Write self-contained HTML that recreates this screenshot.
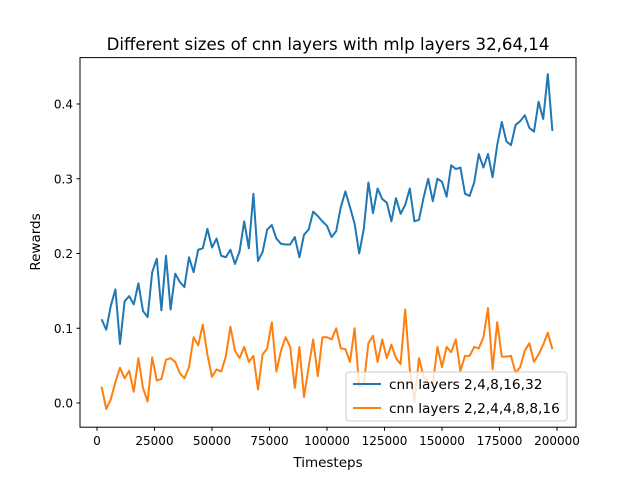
<!DOCTYPE html>
<html><head><meta charset="utf-8"><style>
body{margin:0;background:#fff;font-family:"DejaVu Sans","Liberation Sans",sans-serif}
svg text{font-family:"DejaVu Sans","Liberation Sans",sans-serif;fill:#000}
</style></head><body>
<svg id="c" width="640" height="480" xmlns="http://www.w3.org/2000/svg">
<rect width="640" height="480" fill="#fff"/>
<text x="328" y="50" font-size="16.6" text-anchor="middle">Different sizes of cnn layers with mlp layers 32,64,14</text>
<g id="plot"></g>
<rect x="80" y="57.6" width="496" height="369.6" fill="none" stroke="#000" stroke-width="1"/>
<text x="328" y="467" font-size="13.5" text-anchor="middle">Timesteps</text>
<text x="0" y="0" font-size="13.5" text-anchor="middle" transform="translate(40,242) rotate(-90)">Rewards</text>
<g>
<rect x="346" y="372" width="221" height="49" rx="3" fill="#fff" fill-opacity="0.8" stroke="#ccc"/>
<line x1="353" y1="384" x2="381" y2="384" stroke="#1f77b4" stroke-width="2"/>
<text x="389" y="389" font-size="13.7">cnn layers 2,4,8,16,32</text>
<line x1="353" y1="408" x2="381" y2="408" stroke="#ff7f0e" stroke-width="2"/>
<text x="389" y="413" font-size="13.7">cnn layers 2,2,4,4,8,8,16</text>
</g>
</svg>
<script>
const xTicks=[0,25000,50000,75000,100000,125000,150000,175000,200000];
const yTicks=[0.0,0.1,0.2,0.3,0.4];
const yTickLabels=["0.0","0.1","0.2","0.3","0.4"];
const blueValues=[0.112,0.098,0.13,0.152,0.079,0.136,0.143,0.132,0.16,0.123,0.115,0.175,0.193,0.124,0.197,0.125,0.173,0.162,0.155,0.195,0.175,0.205,0.207,0.233,0.208,0.22,0.197,0.195,0.205,0.186,0.203,0.243,0.207,0.28,0.19,0.202,0.232,0.238,0.22,0.213,0.212,0.212,0.222,0.195,0.225,0.232,0.256,0.25,0.243,0.237,0.222,0.23,0.262,0.283,0.262,0.24,0.2,0.233,0.295,0.254,0.287,0.273,0.268,0.243,0.274,0.253,0.265,0.287,0.243,0.245,0.275,0.3,0.27,0.3,0.296,0.276,0.318,0.313,0.315,0.28,0.277,0.295,0.333,0.315,0.333,0.302,0.345,0.376,0.35,0.345,0.372,0.377,0.385,0.368,0.363,0.403,0.38,0.44,0.364];
const orangeValues=[0.022,-0.008,0.005,0.028,0.047,0.033,0.043,0.015,0.06,0.02,0.002,0.061,0.03,0.032,0.058,0.06,0.055,0.04,0.033,0.048,0.088,0.077,0.105,0.065,0.035,0.045,0.042,0.062,0.102,0.07,0.06,0.075,0.055,0.063,0.018,0.065,0.073,0.108,0.042,0.07,0.088,0.075,0.02,0.075,0.008,0.048,0.085,0.036,0.088,0.088,0.085,0.1,0.073,0.072,0.055,0.1,0.022,0.025,0.08,0.09,0.055,0.085,0.06,0.078,0.06,0.052,0.125,0.045,0.002,0.06,0.035,0.028,0.025,0.075,0.048,0.075,0.068,0.085,0.043,0.063,0.063,0.075,0.073,0.088,0.127,0.045,0.108,0.062,0.062,0.063,0.04,0.048,0.07,0.08,0.055,0.065,0.078,0.094,0.072];
const stepSize=2000;
const NS="http://www.w3.org/2000/svg";
const X=v=>97+(v/200000)*460;
const Y=v=>403-(v/0.4)*299;
const g=document.getElementById('plot');
function mk(t,a){const e=document.createElementNS(NS,t);for(const k in a)e.setAttribute(k,a[k]);return e;}
xTicks.forEach(t=>{
  const l=mk('line',{x1:X(t),x2:X(t),y1:427.2,y2:430.7,stroke:'#000'});
  
  
  g.appendChild(l);
  const tx=mk('text',{x:X(t),y:445,'font-size':12,'text-anchor':'middle'});
  tx.textContent=String(t);
  
  
  g.appendChild(tx);
});
yTicks.forEach((t,i)=>{
  const l=mk('line',{x1:76.5,x2:80,y1:Y(t),y2:Y(t),stroke:'#000'});
  
  
  g.appendChild(l);
  const tx=mk('text',{x:73,y:Y(t)+4.5,'font-size':12,'text-anchor':'end'});
  tx.textContent=yTickLabels[i];
  
  
  g.appendChild(tx);
});
function series(vals,color,name){
  const pts=vals.map((v,i)=>X((i+1)*stepSize).toFixed(2)+','+Y(v).toFixed(2)).join(' ');
  const p=mk('polyline',{points:pts,fill:'none',stroke:color,'stroke-width':2,'stroke-linejoin':'round'});
  
  
  g.appendChild(p);
}
series(blueValues,'#1f77b4','line-cnn-2-4-8-16-32');
series(orangeValues,'#ff7f0e','line-cnn-2-2-4-4-8-8-16');
</script>
</body></html>
